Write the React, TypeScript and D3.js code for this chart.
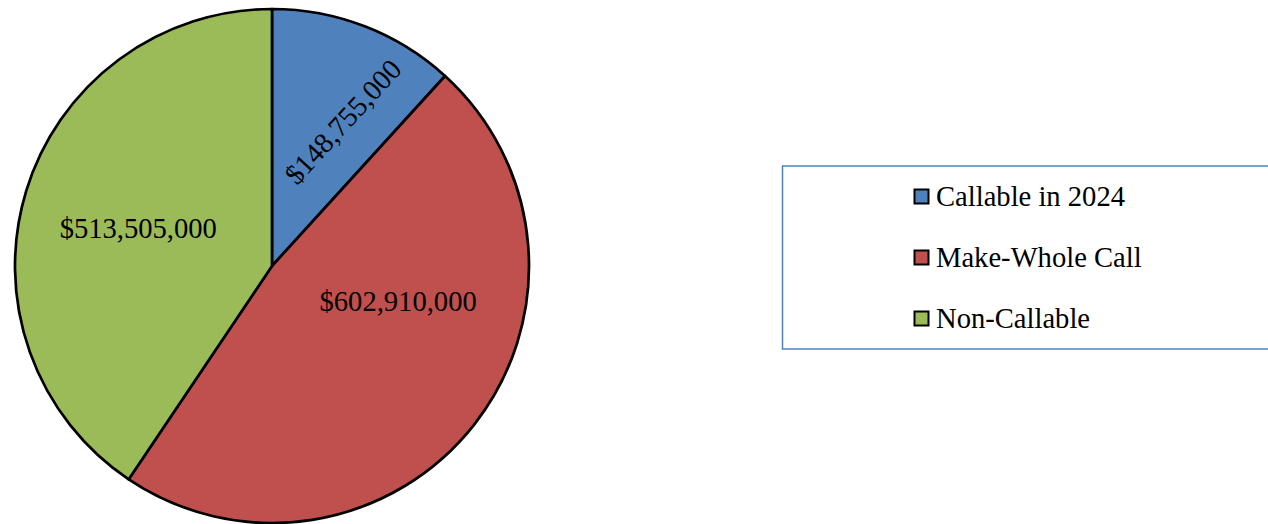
import React from "react";
import * as d3 from "d3";

const categories = ["Callable in 2024", "Make-Whole Call", "Non-Callable"];
const values = [148755000, 602910000, 513505000];
const colors = ["#4F81BD", "#C0504D", "#9BBB59"];

const W = 1268;
const H = 524;
const cx = 272;
const cy = 266;
const R = 257;
const FONT = "'Liberation Serif', 'Times New Roman', serif";
const FS = 28.6;

// label layout: fraction along slice angle, radius fraction, rotation
const labelLayout = [
  { frac: 0.62, rf: 0.625, rot: -47.5 },
  { frac: 0.37, rf: 0.51, rot: 0 },
  { frac: 0.49, rf: 0.54, rot: 0 },
];

const fmt = (v: number) => "$" + d3.format(",")(v);

export default function App() {
  const pie = d3
    .pie<number>()
    .sort(null)
    .startAngle(0)
    .endAngle(2 * Math.PI)
    .value((d) => d);
  const arcs = pie(values);
  const arc = d3.arc<d3.PieArcDatum<number>>().innerRadius(0).outerRadius(R);

  const legendY = d3
    .scalePoint<string>()
    .domain(categories)
    .range([197, 319]);

  return (
    <svg
      width={W}
      height={H}
      style={{ position: "absolute", left: 0, top: 0, background: "#fff" }}
      fontFamily={FONT}
    >
      <g transform={`translate(${cx},${cy})`}>
        {arcs.map((a, i) => (
          <path
            key={i}
            d={arc(a) || ""}
            fill={colors[i]}
            stroke="#000"
            strokeWidth={2.7}
            strokeLinejoin="round"
          />
        ))}
        {arcs.map((a, i) => {
          const L = labelLayout[i];
          const ang = a.startAngle + L.frac * (a.endAngle - a.startAngle);
          const r = L.rf * R;
          const x = Math.sin(ang) * r;
          const y = -Math.cos(ang) * r;
          return (
            <text
              key={i}
              transform={`translate(${x},${y}) rotate(${L.rot})`}
              textAnchor="middle"
              dy="0.33em"
              fontSize={FS}
              fill="#000"
            >
              {fmt(values[i])}
            </text>
          );
        })}
      </g>
      <rect
        x={782.5}
        y={166}
        width={520}
        height={183}
        fill="#fff"
        stroke="#4F81BD"
        strokeWidth={1.5}
      />
      {categories.map((c, i) => {
        const y = legendY(c) as number;
        return (
          <g key={c}>
            <rect
              x={914.5}
              y={y - 7.5}
              width={14}
              height={14}
              fill={colors[i]}
              stroke="#000"
              strokeWidth={2}
            />
            <text x={936} y={y} dy="0.33em" fontSize={FS} fill="#000">
              {c}
            </text>
          </g>
        );
      })}
    </svg>
  );
}
